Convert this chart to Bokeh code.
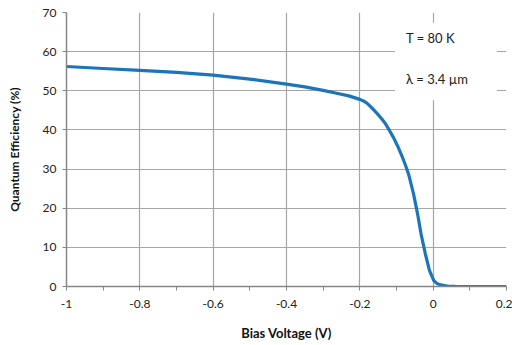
from bokeh.plotting import figure
from bokeh.models import Label, BoxAnnotation, FixedTicker, Range1d
from bokeh.embed import file_html
from bokeh.resources import INLINE

# Data
bias_v = [-1.0, -0.9, -0.8, -0.7, -0.6, -0.5, -0.4, -0.35, -0.3, -0.26, -0.23, -0.2,
          -0.19, -0.18, -0.172, -0.164, -0.15, -0.14, -0.131, -0.12, -0.1085, -0.097,
          -0.0854, -0.076, -0.067, -0.0534, -0.0424, -0.033, -0.0212, -0.0102, 0.0017,
          0.01, 0.02, 0.0386, 0.06, 0.1, 0.2]
qe_pct = [56.2, 55.7, 55.2, 54.7, 54.0, 53.0, 51.7, 51.0, 50.1, 49.3, 48.7, 47.8,
          47.4, 46.8, 46.1, 45.3, 43.9, 42.8, 41.7, 40.0, 38.1, 35.9,
          33.4, 31.1, 28.7, 23.6, 18.5, 13.4, 8.3, 4.1, 1.5,
          0.8, 0.4, 0.1, 0.03, 0.0, 0.0]
x_ticks = [-1.0, -0.8, -0.6, -0.4, -0.2, 0.0, 0.2]
x_tick_labels = {-1.0: "-1", -0.8: "-0.8", -0.6: "-0.6", -0.4: "-0.4", -0.2: "-0.2", 0.0: "0", 0.2: "0.2"}
x_minor = [-0.9, -0.7, -0.5, -0.3, -0.1, 0.1]
y_ticks = [0, 10, 20, 30, 40, 50, 60, 70]
note_lines = ["T = 80 K", "λ = 3.4 µm"]

FONT = "Lato"
GRID = "#a6a6a6"
AXIS = "#868686"

p = figure(width=512, height=345, output_backend="svg", toolbar_location=None,
           x_range=Range1d(-1, 0.2), y_range=Range1d(0, 70),
           min_border_left=66, min_border_right=6, min_border_top=12, min_border_bottom=59)
p.outline_line_color = None
p.background_fill_color = "white"
p.border_fill_color = "white"

p.xaxis.ticker = FixedTicker(ticks=x_ticks, minor_ticks=x_minor)
p.xaxis.major_label_overrides = x_tick_labels
p.yaxis.ticker = FixedTicker(ticks=y_ticks)

for ax in (p.xaxis, p.yaxis):
    ax.axis_line_color = AXIS
    ax.axis_line_width = 1.5
    ax.major_tick_line_color = AXIS
    ax.minor_tick_line_color = AXIS
    ax.major_tick_in = 0
    ax.major_tick_out = 4
    ax.minor_tick_in = 0
    ax.minor_tick_out = 4
    ax.major_label_text_font = FONT
    ax.major_label_text_font_size = "12px"
    ax.major_label_text_color = "#222222"
    ax.axis_label_text_font = FONT
    ax.axis_label_text_font_size = "12px"
    ax.axis_label_text_font_style = "bold"
    ax.axis_label_text_color = "#111111"
p.xaxis.axis_label_text_font_size = "13px"
p.yaxis.minor_tick_out = 0
p.xaxis.major_label_standoff = 9
p.yaxis.major_label_standoff = 6
p.xaxis.axis_label = "Bias Voltage (V)"
p.yaxis.axis_label = "Quantum Efficiency (%)"
p.xaxis.axis_label_standoff = 14
p.yaxis.axis_label_standoff = 18

p.xgrid.ticker = FixedTicker(ticks=x_ticks)
p.ygrid.ticker = FixedTicker(ticks=y_ticks)
p.xgrid.grid_line_color = GRID
p.ygrid.grid_line_color = GRID
p.xgrid.grid_line_width = 1.2
p.ygrid.grid_line_width = 1.2

# white text box over the grid
box = BoxAnnotation(left=-0.104, right=0.174, top=67.4, bottom=47.6,
                    fill_color="white", fill_alpha=1.0, line_color=None, level="underlay")
p.add_layout(box)

p.line(bias_v, qe_pct, line_color="#1b75bb", line_width=3.2)

for txt, yv in zip(note_lines, [63.6, 53.1]):
    p.add_layout(Label(x=-0.074, y=yv, text=txt, text_font=FONT, text_font_size="13px",
                       text_color="#222222", text_baseline="middle", text_align="left"))

open("out.html", "w").write(file_html(p, INLINE))
